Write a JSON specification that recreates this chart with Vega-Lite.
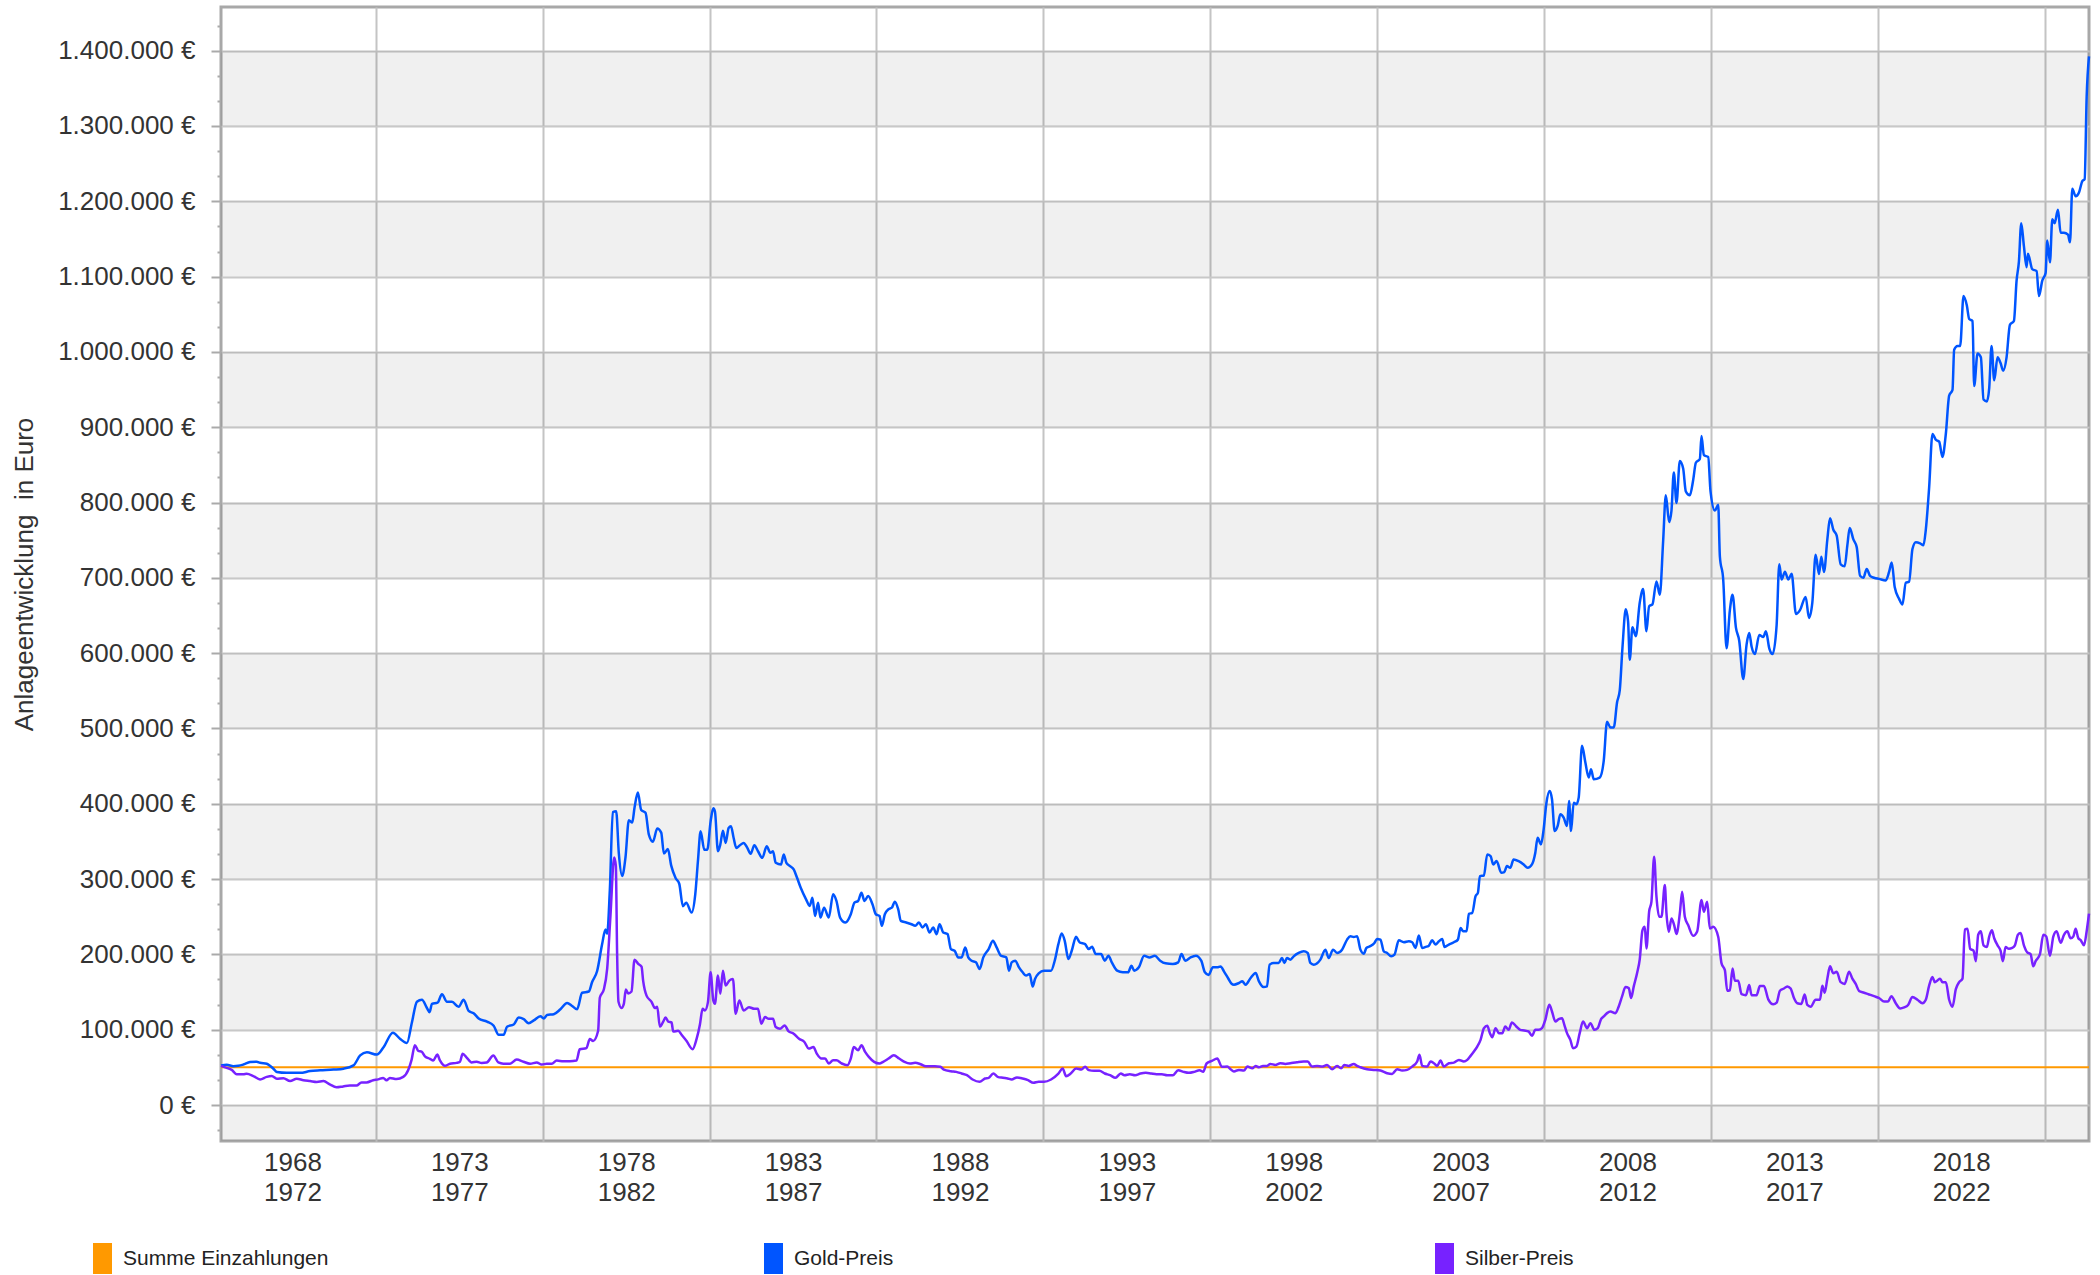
{
"$schema": "https://vega.github.io/schema/vega-lite/v6.json",
"autosize": {"type": "none"},
"padding": {"left": 221, "top": 7, "right": 11, "bottom": 134},
"width": 1868,
"height": 1134,
"background": "white",
"config": {"view": {"stroke": "#a8a8a8", "strokeWidth": 3}, "font": "Liberation Sans"},
"datasets": {
"baender": [{"von":-47800,"bis":0},{"von":100000,"bis":200000},{"von":300000,"bis":400000},{"von":500000,"bis":600000},{"von":700000,"bis":800000},{"von":900000,"bis":1000000},{"von":1100000,"bis":1200000},{"von":1300000,"bis":1400000}],
"einzahlungen": [{"Jahr":1968.36,"Wert":50000},{"Jahr":2024.33,"Wert":50000}],
"gold": [{"Jahr":1968.36,"Wert":52500},{"Jahr":1968.53,"Wert":53500},{"Jahr":1968.73,"Wert":51500},{"Jahr":1968.88,"Wert":52000},{"Jahr":1969.03,"Wert":53700},{"Jahr":1969.23,"Wert":57000},{"Jahr":1969.43,"Wert":57500},{"Jahr":1969.53,"Wert":56000},{"Jahr":1969.73,"Wert":54800},{"Jahr":1969.93,"Wert":48200},{"Jahr":1970.03,"Wert":43800},{"Jahr":1970.33,"Wert":42700},{"Jahr":1970.73,"Wert":42700},{"Jahr":1971.03,"Wert":45000},{"Jahr":1971.33,"Wert":46000},{"Jahr":1971.73,"Wert":47000},{"Jahr":1972.03,"Wert":48200},{"Jahr":1972.33,"Wert":52600},{"Jahr":1972.53,"Wert":65800},{"Jahr":1972.73,"Wert":70000},{"Jahr":1973.03,"Wert":66900},{"Jahr":1973.23,"Wert":76700},{"Jahr":1973.51,"Wert":95900},{"Jahr":1973.73,"Wert":87700},{"Jahr":1973.93,"Wert":82200},{"Jahr":1974.08,"Wert":109600},{"Jahr":1974.23,"Wert":137000},{"Jahr":1974.38,"Wert":139700},{"Jahr":1974.53,"Wert":128800},{"Jahr":1974.61,"Wert":123300},{"Jahr":1974.68,"Wert":134300},{"Jahr":1974.85,"Wert":135900},{"Jahr":1974.98,"Wert":146900},{"Jahr":1975.13,"Wert":137000},{"Jahr":1975.28,"Wert":137000},{"Jahr":1975.48,"Wert":130400},{"Jahr":1975.63,"Wert":139700},{"Jahr":1975.78,"Wert":124900},{"Jahr":1975.93,"Wert":121700},{"Jahr":1976.08,"Wert":115000},{"Jahr":1976.33,"Wert":110700},{"Jahr":1976.53,"Wert":105200},{"Jahr":1976.68,"Wert":93200},{"Jahr":1976.83,"Wert":93200},{"Jahr":1976.93,"Wert":104000},{"Jahr":1977.13,"Wert":106900},{"Jahr":1977.28,"Wert":116200},{"Jahr":1977.43,"Wert":114000},{"Jahr":1977.58,"Wert":108500},{"Jahr":1977.73,"Wert":112300},{"Jahr":1977.93,"Wert":117800},{"Jahr":1978.03,"Wert":115000},{"Jahr":1978.13,"Wert":119500},{"Jahr":1978.33,"Wert":120600},{"Jahr":1978.53,"Wert":127100},{"Jahr":1978.73,"Wert":135400},{"Jahr":1978.88,"Wert":131500},{"Jahr":1979.03,"Wert":127100},{"Jahr":1979.18,"Wert":149000},{"Jahr":1979.38,"Wert":150700},{"Jahr":1979.48,"Wert":163300},{"Jahr":1979.63,"Wert":178000},{"Jahr":1979.78,"Wert":213700},{"Jahr":1979.88,"Wert":232900},{"Jahr":1979.93,"Wert":227400},{"Jahr":1980.01,"Wert":285000},{"Jahr":1980.10,"Wert":389000},{"Jahr":1980.20,"Wert":390000},{"Jahr":1980.28,"Wert":334000},{"Jahr":1980.38,"Wert":304000},{"Jahr":1980.48,"Wert":329000},{"Jahr":1980.58,"Wert":378000},{"Jahr":1980.68,"Wert":375000},{"Jahr":1980.75,"Wert":394600},{"Jahr":1980.85,"Wert":414800},{"Jahr":1980.95,"Wert":391800},{"Jahr":1981.08,"Wert":388000},{"Jahr":1981.18,"Wert":359000},{"Jahr":1981.30,"Wert":349600},{"Jahr":1981.43,"Wert":367000},{"Jahr":1981.55,"Wert":361700},{"Jahr":1981.63,"Wert":334000},{"Jahr":1981.75,"Wert":339800},{"Jahr":1981.85,"Wert":317800},{"Jahr":1981.98,"Wert":301400},{"Jahr":1982.09,"Wert":293800},{"Jahr":1982.20,"Wert":264000},{"Jahr":1982.30,"Wert":268700},{"Jahr":1982.46,"Wert":255500},{"Jahr":1982.57,"Wert":279700},{"Jahr":1982.65,"Wert":323800},{"Jahr":1982.73,"Wert":363400},{"Jahr":1982.84,"Wert":339000},{"Jahr":1982.93,"Wert":339000},{"Jahr":1983.03,"Wert":376600},{"Jahr":1983.11,"Wert":394000},{"Jahr":1983.16,"Wert":389800},{"Jahr":1983.25,"Wert":337000},{"Jahr":1983.32,"Wert":345800},{"Jahr":1983.40,"Wert":364300},{"Jahr":1983.48,"Wert":348000},{"Jahr":1983.57,"Wert":367800},{"Jahr":1983.64,"Wert":370000},{"Jahr":1983.72,"Wert":354600},{"Jahr":1983.80,"Wert":341400},{"Jahr":1983.91,"Wert":345000},{"Jahr":1984.02,"Wert":348000},{"Jahr":1984.13,"Wert":341400},{"Jahr":1984.23,"Wert":333500},{"Jahr":1984.34,"Wert":345000},{"Jahr":1984.45,"Wert":337000},{"Jahr":1984.58,"Wert":328200},{"Jahr":1984.71,"Wert":343600},{"Jahr":1984.82,"Wert":334800},{"Jahr":1984.90,"Wert":337000},{"Jahr":1984.98,"Wert":321600},{"Jahr":1985.14,"Wert":319400},{"Jahr":1985.22,"Wert":332600},{"Jahr":1985.30,"Wert":321600},{"Jahr":1985.41,"Wert":317200},{"Jahr":1985.52,"Wert":312800},{"Jahr":1985.62,"Wert":301700},{"Jahr":1985.73,"Wert":288500},{"Jahr":1985.89,"Wert":273100},{"Jahr":1986.00,"Wert":264300},{"Jahr":1986.08,"Wert":275300},{"Jahr":1986.16,"Wert":251100},{"Jahr":1986.25,"Wert":268700},{"Jahr":1986.32,"Wert":248900},{"Jahr":1986.43,"Wert":262000},{"Jahr":1986.57,"Wert":248900},{"Jahr":1986.70,"Wert":279700},{"Jahr":1986.80,"Wert":270900},{"Jahr":1986.91,"Wert":248900},{"Jahr":1987.07,"Wert":242300},{"Jahr":1987.23,"Wert":253300},{"Jahr":1987.34,"Wert":268700},{"Jahr":1987.45,"Wert":270900},{"Jahr":1987.55,"Wert":281900},{"Jahr":1987.64,"Wert":270900},{"Jahr":1987.75,"Wert":277500},{"Jahr":1987.88,"Wert":266500},{"Jahr":1987.98,"Wert":253300},{"Jahr":1988.09,"Wert":251000},{"Jahr":1988.16,"Wert":237900},{"Jahr":1988.25,"Wert":253300},{"Jahr":1988.36,"Wert":260000},{"Jahr":1988.46,"Wert":262000},{"Jahr":1988.55,"Wert":270000},{"Jahr":1988.65,"Wert":260000},{"Jahr":1988.73,"Wert":244500},{"Jahr":1988.89,"Wert":242300},{"Jahr":1989.05,"Wert":240000},{"Jahr":1989.16,"Wert":237900},{"Jahr":1989.27,"Wert":242300},{"Jahr":1989.38,"Wert":235700},{"Jahr":1989.48,"Wert":240000},{"Jahr":1989.59,"Wert":229000},{"Jahr":1989.70,"Wert":235700},{"Jahr":1989.80,"Wert":226900},{"Jahr":1989.89,"Wert":240000},{"Jahr":1990.00,"Wert":229000},{"Jahr":1990.13,"Wert":226900},{"Jahr":1990.23,"Wert":207000},{"Jahr":1990.34,"Wert":204800},{"Jahr":1990.45,"Wert":196000},{"Jahr":1990.55,"Wert":196000},{"Jahr":1990.66,"Wert":209200},{"Jahr":1990.75,"Wert":196000},{"Jahr":1990.85,"Wert":191600},{"Jahr":1990.98,"Wert":189400},{"Jahr":1991.09,"Wert":180600},{"Jahr":1991.20,"Wert":196000},{"Jahr":1991.36,"Wert":207000},{"Jahr":1991.49,"Wert":218000},{"Jahr":1991.60,"Wert":209200},{"Jahr":1991.73,"Wert":198200},{"Jahr":1991.89,"Wert":196000},{"Jahr":1991.97,"Wert":178400},{"Jahr":1992.05,"Wert":189400},{"Jahr":1992.16,"Wert":191600},{"Jahr":1992.27,"Wert":182800},{"Jahr":1992.38,"Wert":176200},{"Jahr":1992.48,"Wert":171800},{"Jahr":1992.59,"Wert":174000},{"Jahr":1992.68,"Wert":157300},{"Jahr":1992.75,"Wert":167400},{"Jahr":1992.86,"Wert":174900},{"Jahr":1993.02,"Wert":178400},{"Jahr":1993.23,"Wert":178400},{"Jahr":1993.34,"Wert":191600},{"Jahr":1993.45,"Wert":213600},{"Jahr":1993.55,"Wert":227700},{"Jahr":1993.64,"Wert":218000},{"Jahr":1993.75,"Wert":193800},{"Jahr":1993.85,"Wert":204800},{"Jahr":1993.98,"Wert":223300},{"Jahr":1994.09,"Wert":215800},{"Jahr":1994.25,"Wert":213600},{"Jahr":1994.36,"Wert":207000},{"Jahr":1994.46,"Wert":210200},{"Jahr":1994.57,"Wert":200400},{"Jahr":1994.73,"Wert":200400},{"Jahr":1994.84,"Wert":191600},{"Jahr":1994.95,"Wert":198200},{"Jahr":1995.05,"Wert":189400},{"Jahr":1995.21,"Wert":178400},{"Jahr":1995.38,"Wert":176200},{"Jahr":1995.54,"Wert":176200},{"Jahr":1995.64,"Wert":185000},{"Jahr":1995.72,"Wert":178400},{"Jahr":1995.86,"Wert":182800},{"Jahr":1996.02,"Wert":198200},{"Jahr":1996.18,"Wert":196000},{"Jahr":1996.34,"Wert":198200},{"Jahr":1996.50,"Wert":191600},{"Jahr":1996.66,"Wert":188100},{"Jahr":1996.88,"Wert":187200},{"Jahr":1997.04,"Wert":189400},{"Jahr":1997.14,"Wert":200400},{"Jahr":1997.25,"Wert":191600},{"Jahr":1997.41,"Wert":196000},{"Jahr":1997.57,"Wert":198200},{"Jahr":1997.73,"Wert":191600},{"Jahr":1997.84,"Wert":176200},{"Jahr":1997.95,"Wert":172700},{"Jahr":1998.08,"Wert":182800},{"Jahr":1998.21,"Wert":182800},{"Jahr":1998.31,"Wert":184000},{"Jahr":1998.41,"Wert":177500},{"Jahr":1998.54,"Wert":168000},{"Jahr":1998.64,"Wert":161000},{"Jahr":1998.71,"Wert":159700},{"Jahr":1998.86,"Wert":162000},{"Jahr":1998.96,"Wert":164200},{"Jahr":1999.06,"Wert":159700},{"Jahr":1999.21,"Wert":168600},{"Jahr":1999.36,"Wert":175300},{"Jahr":1999.46,"Wert":164200},{"Jahr":1999.60,"Wert":156600},{"Jahr":1999.70,"Wert":157500},{"Jahr":1999.78,"Wert":186400},{"Jahr":1999.90,"Wert":188600},{"Jahr":2000.05,"Wert":188600},{"Jahr":2000.15,"Wert":195200},{"Jahr":2000.22,"Wert":188600},{"Jahr":2000.30,"Wert":195200},{"Jahr":2000.40,"Wert":193000},{"Jahr":2000.50,"Wert":197400},{"Jahr":2000.65,"Wert":201900},{"Jahr":2000.80,"Wert":204100},{"Jahr":2000.92,"Wert":201900},{"Jahr":2001.00,"Wert":188600},{"Jahr":2001.10,"Wert":186400},{"Jahr":2001.30,"Wert":193000},{"Jahr":2001.45,"Wert":206300},{"Jahr":2001.55,"Wert":195200},{"Jahr":2001.68,"Wert":206300},{"Jahr":2001.80,"Wert":201900},{"Jahr":2001.95,"Wert":206300},{"Jahr":2002.10,"Wert":219600},{"Jahr":2002.20,"Wert":224100},{"Jahr":2002.30,"Wert":223200},{"Jahr":2002.40,"Wert":224100},{"Jahr":2002.50,"Wert":206300},{"Jahr":2002.60,"Wert":201000},{"Jahr":2002.68,"Wert":208500},{"Jahr":2002.78,"Wert":210700},{"Jahr":2002.92,"Wert":215200},{"Jahr":2003.00,"Wert":220500},{"Jahr":2003.10,"Wert":219600},{"Jahr":2003.20,"Wert":204100},{"Jahr":2003.30,"Wert":201900},{"Jahr":2003.42,"Wert":197400},{"Jahr":2003.52,"Wert":199700},{"Jahr":2003.65,"Wert":218700},{"Jahr":2003.80,"Wert":216100},{"Jahr":2003.95,"Wert":217400},{"Jahr":2004.05,"Wert":216100},{"Jahr":2004.15,"Wert":208500},{"Jahr":2004.25,"Wert":225000},{"Jahr":2004.35,"Wert":208500},{"Jahr":2004.45,"Wert":209900},{"Jahr":2004.55,"Wert":211600},{"Jahr":2004.65,"Wert":218700},{"Jahr":2004.75,"Wert":213000},{"Jahr":2004.85,"Wert":217400},{"Jahr":2004.95,"Wert":220500},{"Jahr":2005.02,"Wert":209900},{"Jahr":2005.15,"Wert":213000},{"Jahr":2005.30,"Wert":216100},{"Jahr":2005.42,"Wert":219600},{"Jahr":2005.50,"Wert":235200},{"Jahr":2005.58,"Wert":230700},{"Jahr":2005.68,"Wert":230700},{"Jahr":2005.75,"Wert":253800},{"Jahr":2005.85,"Wert":255100},{"Jahr":2005.95,"Wert":277300},{"Jahr":2006.02,"Wert":281800},{"Jahr":2006.08,"Wert":303900},{"Jahr":2006.20,"Wert":304800},{"Jahr":2006.30,"Wert":332800},{"Jahr":2006.40,"Wert":330600},{"Jahr":2006.48,"Wert":319500},{"Jahr":2006.58,"Wert":323900},{"Jahr":2006.72,"Wert":308400},{"Jahr":2006.81,"Wert":309300},{"Jahr":2006.89,"Wert":317200},{"Jahr":2006.99,"Wert":315000},{"Jahr":2007.09,"Wert":326100},{"Jahr":2007.24,"Wert":323900},{"Jahr":2007.39,"Wert":319500},{"Jahr":2007.51,"Wert":315000},{"Jahr":2007.64,"Wert":319500},{"Jahr":2007.74,"Wert":335000},{"Jahr":2007.81,"Wert":354900},{"Jahr":2007.91,"Wert":346100},{"Jahr":2007.99,"Wert":366000},{"Jahr":2008.07,"Wert":400000},{"Jahr":2008.17,"Wert":417000},{"Jahr":2008.24,"Wert":406000},{"Jahr":2008.32,"Wert":363800},{"Jahr":2008.41,"Wert":370500},{"Jahr":2008.49,"Wert":386000},{"Jahr":2008.59,"Wert":381600},{"Jahr":2008.69,"Wert":370500},{"Jahr":2008.75,"Wert":403800},{"Jahr":2008.81,"Wert":363800},{"Jahr":2008.89,"Wert":401500},{"Jahr":2008.97,"Wert":399300},{"Jahr":2009.04,"Wert":408200},{"Jahr":2009.14,"Wert":477000},{"Jahr":2009.24,"Wert":454800},{"Jahr":2009.34,"Wert":434800},{"Jahr":2009.41,"Wert":445900},{"Jahr":2009.49,"Wert":432600},{"Jahr":2009.67,"Wert":434800},{"Jahr":2009.79,"Wert":457000},{"Jahr":2009.89,"Wert":509000},{"Jahr":2009.99,"Wert":501300},{"Jahr":2010.09,"Wert":501300},{"Jahr":2010.19,"Wert":534700},{"Jahr":2010.27,"Wert":550500},{"Jahr":2010.35,"Wert":606400},{"Jahr":2010.45,"Wert":658200},{"Jahr":2010.52,"Wert":641900},{"Jahr":2010.57,"Wert":591100},{"Jahr":2010.65,"Wert":634300},{"Jahr":2010.75,"Wert":622600},{"Jahr":2010.87,"Wert":667300},{"Jahr":2010.97,"Wert":685100},{"Jahr":2011.07,"Wert":629200},{"Jahr":2011.15,"Wert":662300},{"Jahr":2011.25,"Wert":664800},{"Jahr":2011.37,"Wert":695300},{"Jahr":2011.47,"Wert":677500},{"Jahr":2011.57,"Wert":748600},{"Jahr":2011.65,"Wert":809600},{"Jahr":2011.75,"Wert":774000},{"Jahr":2011.82,"Wert":789300},{"Jahr":2011.89,"Wert":840000},{"Jahr":2011.97,"Wert":799400},{"Jahr":2012.07,"Wert":855300},{"Jahr":2012.17,"Wert":845100},{"Jahr":2012.25,"Wert":814700},{"Jahr":2012.37,"Wert":809600},{"Jahr":2012.47,"Wert":829900},{"Jahr":2012.55,"Wert":852800},{"Jahr":2012.67,"Wert":857800},{"Jahr":2012.72,"Wert":888300},{"Jahr":2012.79,"Wert":862900},{"Jahr":2012.92,"Wert":860400},{"Jahr":2012.99,"Wert":814700},{"Jahr":2013.12,"Wert":789300},{"Jahr":2013.22,"Wert":797000},{"Jahr":2013.27,"Wert":728300},{"Jahr":2013.37,"Wert":697800},{"Jahr":2013.47,"Wert":606400},{"Jahr":2013.57,"Wert":657200},{"Jahr":2013.65,"Wert":677500},{"Jahr":2013.75,"Wert":634300},{"Jahr":2013.85,"Wert":616500},{"Jahr":2013.97,"Wert":565700},{"Jahr":2014.07,"Wert":611400},{"Jahr":2014.15,"Wert":626700},{"Jahr":2014.22,"Wert":608900},{"Jahr":2014.32,"Wert":598800},{"Jahr":2014.45,"Wert":624200},{"Jahr":2014.57,"Wert":621600},{"Jahr":2014.65,"Wert":629200},{"Jahr":2014.75,"Wert":606400},{"Jahr":2014.85,"Wert":598800},{"Jahr":2014.97,"Wert":636900},{"Jahr":2015.05,"Wert":718100},{"Jahr":2015.12,"Wert":697800},{"Jahr":2015.22,"Wert":708000},{"Jahr":2015.32,"Wert":697800},{"Jahr":2015.42,"Wert":705400},{"Jahr":2015.55,"Wert":652100},{"Jahr":2015.67,"Wert":657200},{"Jahr":2015.84,"Wert":674700},{"Jahr":2015.94,"Wert":646700},{"Jahr":2016.04,"Wert":667000},{"Jahr":2016.14,"Wert":730700},{"Jahr":2016.24,"Wert":705200},{"Jahr":2016.31,"Wert":728100},{"Jahr":2016.39,"Wert":707800},{"Jahr":2016.49,"Wert":751000},{"Jahr":2016.57,"Wert":779000},{"Jahr":2016.67,"Wert":763800},{"Jahr":2016.77,"Wert":756100},{"Jahr":2016.89,"Wert":717900},{"Jahr":2017.01,"Wert":715400},{"Jahr":2017.09,"Wert":743400},{"Jahr":2017.16,"Wert":766300},{"Jahr":2017.27,"Wert":751000},{"Jahr":2017.37,"Wert":740800},{"Jahr":2017.47,"Wert":702700},{"Jahr":2017.57,"Wert":700100},{"Jahr":2017.67,"Wert":711800},{"Jahr":2017.77,"Wert":702700},{"Jahr":2017.89,"Wert":700100},{"Jahr":2018.04,"Wert":698600},{"Jahr":2018.24,"Wert":696600},{"Jahr":2018.34,"Wert":707800},{"Jahr":2018.42,"Wert":720500},{"Jahr":2018.51,"Wert":687400},{"Jahr":2018.64,"Wert":672100},{"Jahr":2018.74,"Wert":664500},{"Jahr":2018.84,"Wert":693500},{"Jahr":2018.94,"Wert":695000},{"Jahr":2019.04,"Wert":738300},{"Jahr":2019.14,"Wert":747400},{"Jahr":2019.27,"Wert":745900},{"Jahr":2019.37,"Wert":743400},{"Jahr":2019.44,"Wert":763800},{"Jahr":2019.54,"Wert":819800},{"Jahr":2019.64,"Wert":891000},{"Jahr":2019.74,"Wert":883400},{"Jahr":2019.84,"Wert":880800},{"Jahr":2019.94,"Wert":860500},{"Jahr":2020.04,"Wert":891000},{"Jahr":2020.14,"Wert":941900},{"Jahr":2020.24,"Wert":949500},{"Jahr":2020.29,"Wert":1003000},{"Jahr":2020.39,"Wert":1008000},{"Jahr":2020.47,"Wert":1008000},{"Jahr":2020.57,"Wert":1074200},{"Jahr":2020.67,"Wert":1061500},{"Jahr":2020.74,"Wert":1043700},{"Jahr":2020.84,"Wert":1041100},{"Jahr":2020.89,"Wert":954600},{"Jahr":2020.99,"Wert":997900},{"Jahr":2021.09,"Wert":992800},{"Jahr":2021.17,"Wert":936800},{"Jahr":2021.27,"Wert":934300},{"Jahr":2021.34,"Wert":952000},{"Jahr":2021.41,"Wert":1008000},{"Jahr":2021.49,"Wert":962300},{"Jahr":2021.59,"Wert":992800},{"Jahr":2021.68,"Wert":985200},{"Jahr":2021.76,"Wert":975000},{"Jahr":2021.86,"Wert":992800},{"Jahr":2021.96,"Wert":1036000},{"Jahr":2022.08,"Wert":1041100},{"Jahr":2022.16,"Wert":1094600},{"Jahr":2022.23,"Wert":1120000},{"Jahr":2022.30,"Wert":1171000},{"Jahr":2022.38,"Wert":1140400},{"Jahr":2022.46,"Wert":1112400},{"Jahr":2022.50,"Wert":1130300},{"Jahr":2022.63,"Wert":1109900},{"Jahr":2022.76,"Wert":1107300},{"Jahr":2022.83,"Wert":1074200},{"Jahr":2022.93,"Wert":1094600},{"Jahr":2023.03,"Wert":1104800},{"Jahr":2023.08,"Wert":1148000},{"Jahr":2023.16,"Wert":1119000},{"Jahr":2023.23,"Wert":1176000},{"Jahr":2023.30,"Wert":1171000},{"Jahr":2023.40,"Wert":1188800},{"Jahr":2023.48,"Wert":1158200},{"Jahr":2023.58,"Wert":1158200},{"Jahr":2023.70,"Wert":1155700},{"Jahr":2023.76,"Wert":1145500},{"Jahr":2023.83,"Wert":1216800},{"Jahr":2023.93,"Wert":1206600},{"Jahr":2024.03,"Wert":1211700},{"Jahr":2024.13,"Wert":1226900},{"Jahr":2024.20,"Wert":1229500},{"Jahr":2024.26,"Wert":1338900},{"Jahr":2024.33,"Wert":1392400}],
"silber": [{"Jahr":1968.36,"Wert":52000},{"Jahr":1968.53,"Wert":49300},{"Jahr":1968.68,"Wert":46600},{"Jahr":1968.83,"Wert":41000},{"Jahr":1969.03,"Wert":41000},{"Jahr":1969.13,"Wert":41500},{"Jahr":1969.33,"Wert":38400},{"Jahr":1969.53,"Wert":34000},{"Jahr":1969.73,"Wert":37300},{"Jahr":1969.88,"Wert":38400},{"Jahr":1970.03,"Wert":35000},{"Jahr":1970.23,"Wert":35600},{"Jahr":1970.43,"Wert":31800},{"Jahr":1970.63,"Wert":35000},{"Jahr":1970.83,"Wert":32900},{"Jahr":1971.03,"Wert":31800},{"Jahr":1971.23,"Wert":30700},{"Jahr":1971.43,"Wert":31800},{"Jahr":1971.62,"Wert":27400},{"Jahr":1971.82,"Wert":23600},{"Jahr":1972.02,"Wert":24700},{"Jahr":1972.22,"Wert":25800},{"Jahr":1972.42,"Wert":25800},{"Jahr":1972.57,"Wert":30000},{"Jahr":1972.72,"Wert":30000},{"Jahr":1972.92,"Wert":32900},{"Jahr":1973.07,"Wert":34000},{"Jahr":1973.22,"Wert":36000},{"Jahr":1973.32,"Wert":32900},{"Jahr":1973.42,"Wert":36000},{"Jahr":1973.62,"Wert":34500},{"Jahr":1973.82,"Wert":37300},{"Jahr":1973.97,"Wert":46600},{"Jahr":1974.07,"Wert":60000},{"Jahr":1974.17,"Wert":79500},{"Jahr":1974.27,"Wert":72000},{"Jahr":1974.37,"Wert":71000},{"Jahr":1974.47,"Wert":64700},{"Jahr":1974.62,"Wert":61400},{"Jahr":1974.72,"Wert":59200},{"Jahr":1974.84,"Wert":66900},{"Jahr":1974.92,"Wert":59200},{"Jahr":1975.07,"Wert":52000},{"Jahr":1975.22,"Wert":54800},{"Jahr":1975.42,"Wert":55900},{"Jahr":1975.52,"Wert":57500},{"Jahr":1975.60,"Wert":68000},{"Jahr":1975.72,"Wert":63000},{"Jahr":1975.87,"Wert":56500},{"Jahr":1976.02,"Wert":57500},{"Jahr":1976.17,"Wert":55900},{"Jahr":1976.32,"Wert":56500},{"Jahr":1976.52,"Wert":65800},{"Jahr":1976.67,"Wert":56500},{"Jahr":1976.82,"Wert":54800},{"Jahr":1977.02,"Wert":54800},{"Jahr":1977.22,"Wert":60300},{"Jahr":1977.42,"Wert":57500},{"Jahr":1977.62,"Wert":54800},{"Jahr":1977.82,"Wert":56500},{"Jahr":1977.97,"Wert":53700},{"Jahr":1978.12,"Wert":54800},{"Jahr":1978.27,"Wert":54800},{"Jahr":1978.42,"Wert":59000},{"Jahr":1978.62,"Wert":58000},{"Jahr":1978.81,"Wert":58000},{"Jahr":1979.01,"Wert":59000},{"Jahr":1979.11,"Wert":74000},{"Jahr":1979.31,"Wert":75600},{"Jahr":1979.41,"Wert":87700},{"Jahr":1979.51,"Wert":85000},{"Jahr":1979.66,"Wert":98600},{"Jahr":1979.71,"Wert":142500},{"Jahr":1979.83,"Wert":153400},{"Jahr":1979.93,"Wert":180800},{"Jahr":1980.03,"Wert":252000},{"Jahr":1980.14,"Wert":328800},{"Jahr":1980.19,"Wert":317800},{"Jahr":1980.23,"Wert":197300},{"Jahr":1980.27,"Wert":137000},{"Jahr":1980.36,"Wert":128800},{"Jahr":1980.43,"Wert":134300},{"Jahr":1980.49,"Wert":153400},{"Jahr":1980.56,"Wert":148000},{"Jahr":1980.66,"Wert":150700},{"Jahr":1980.75,"Wert":192900},{"Jahr":1980.86,"Wert":187400},{"Jahr":1980.96,"Wert":183600},{"Jahr":1981.01,"Wert":164400},{"Jahr":1981.11,"Wert":145200},{"Jahr":1981.26,"Wert":137000},{"Jahr":1981.36,"Wert":128800},{"Jahr":1981.43,"Wert":130400},{"Jahr":1981.51,"Wert":104000},{"Jahr":1981.61,"Wert":110700},{"Jahr":1981.68,"Wert":116200},{"Jahr":1981.76,"Wert":110700},{"Jahr":1981.86,"Wert":109600},{"Jahr":1981.91,"Wert":97500},{"Jahr":1982.06,"Wert":98600},{"Jahr":1982.16,"Wert":93200},{"Jahr":1982.31,"Wert":85000},{"Jahr":1982.49,"Wert":74000},{"Jahr":1982.61,"Wert":87700},{"Jahr":1982.71,"Wert":106900},{"Jahr":1982.79,"Wert":127700},{"Jahr":1982.86,"Wert":125500},{"Jahr":1982.95,"Wert":136600},{"Jahr":1983.03,"Wert":176200},{"Jahr":1983.11,"Wert":138800},{"Jahr":1983.16,"Wert":134400},{"Jahr":1983.25,"Wert":171800},{"Jahr":1983.32,"Wert":147600},{"Jahr":1983.40,"Wert":178400},{"Jahr":1983.48,"Wert":158600},{"Jahr":1983.59,"Wert":165200},{"Jahr":1983.70,"Wert":167400},{"Jahr":1983.78,"Wert":121100},{"Jahr":1983.89,"Wert":138800},{"Jahr":1984.02,"Wert":125500},{"Jahr":1984.18,"Wert":129900},{"Jahr":1984.34,"Wert":127700},{"Jahr":1984.45,"Wert":127700},{"Jahr":1984.55,"Wert":107900},{"Jahr":1984.66,"Wert":116700},{"Jahr":1984.77,"Wert":114500},{"Jahr":1984.90,"Wert":114500},{"Jahr":1984.98,"Wert":103500},{"Jahr":1985.11,"Wert":101300},{"Jahr":1985.25,"Wert":105700},{"Jahr":1985.36,"Wert":98200},{"Jahr":1985.52,"Wert":94700},{"Jahr":1985.68,"Wert":88100},{"Jahr":1985.84,"Wert":83700},{"Jahr":1985.97,"Wert":74900},{"Jahr":1986.11,"Wert":77000},{"Jahr":1986.21,"Wert":68300},{"Jahr":1986.35,"Wert":61700},{"Jahr":1986.46,"Wert":61700},{"Jahr":1986.57,"Wert":55100},{"Jahr":1986.70,"Wert":59500},{"Jahr":1986.80,"Wert":59500},{"Jahr":1986.96,"Wert":55100},{"Jahr":1987.13,"Wert":52900},{"Jahr":1987.23,"Wert":61700},{"Jahr":1987.32,"Wert":77100},{"Jahr":1987.45,"Wert":72700},{"Jahr":1987.55,"Wert":79300},{"Jahr":1987.66,"Wert":70500},{"Jahr":1987.77,"Wert":63900},{"Jahr":1987.93,"Wert":57300},{"Jahr":1988.09,"Wert":55100},{"Jahr":1988.20,"Wert":57300},{"Jahr":1988.36,"Wert":61700},{"Jahr":1988.52,"Wert":66100},{"Jahr":1988.68,"Wert":61700},{"Jahr":1988.84,"Wert":57300},{"Jahr":1989.00,"Wert":55100},{"Jahr":1989.16,"Wert":56000},{"Jahr":1989.32,"Wert":54200},{"Jahr":1989.48,"Wert":51500},{"Jahr":1989.75,"Wert":51500},{"Jahr":1989.91,"Wert":50700},{"Jahr":1990.02,"Wert":47100},{"Jahr":1990.23,"Wert":44900},{"Jahr":1990.39,"Wert":44000},{"Jahr":1990.55,"Wert":41800},{"Jahr":1990.71,"Wert":39600},{"Jahr":1990.88,"Wert":33900},{"Jahr":1991.09,"Wert":30800},{"Jahr":1991.25,"Wert":35200},{"Jahr":1991.36,"Wert":36100},{"Jahr":1991.50,"Wert":41800},{"Jahr":1991.63,"Wert":37400},{"Jahr":1991.79,"Wert":36100},{"Jahr":1991.93,"Wert":35200},{"Jahr":1992.05,"Wert":33900},{"Jahr":1992.21,"Wert":36600},{"Jahr":1992.38,"Wert":35200},{"Jahr":1992.54,"Wert":33000},{"Jahr":1992.70,"Wert":29500},{"Jahr":1992.86,"Wert":30800},{"Jahr":1993.02,"Wert":30800},{"Jahr":1993.23,"Wert":33900},{"Jahr":1993.45,"Wert":41800},{"Jahr":1993.58,"Wert":48500},{"Jahr":1993.68,"Wert":38300},{"Jahr":1993.82,"Wert":41800},{"Jahr":1993.98,"Wert":48500},{"Jahr":1994.14,"Wert":47100},{"Jahr":1994.25,"Wert":50700},{"Jahr":1994.36,"Wert":46300},{"Jahr":1994.52,"Wert":45400},{"Jahr":1994.68,"Wert":45400},{"Jahr":1994.84,"Wert":41800},{"Jahr":1995.00,"Wert":39600},{"Jahr":1995.16,"Wert":36100},{"Jahr":1995.32,"Wert":41800},{"Jahr":1995.43,"Wert":39600},{"Jahr":1995.59,"Wert":40900},{"Jahr":1995.75,"Wert":39600},{"Jahr":1995.91,"Wert":41800},{"Jahr":1996.07,"Wert":42700},{"Jahr":1996.23,"Wert":41800},{"Jahr":1996.39,"Wert":40900},{"Jahr":1996.55,"Wert":40900},{"Jahr":1996.71,"Wert":39600},{"Jahr":1996.88,"Wert":39600},{"Jahr":1997.04,"Wert":46300},{"Jahr":1997.20,"Wert":44000},{"Jahr":1997.36,"Wert":42700},{"Jahr":1997.52,"Wert":44000},{"Jahr":1997.68,"Wert":46300},{"Jahr":1997.79,"Wert":44000},{"Jahr":1997.89,"Wert":55100},{"Jahr":1998.05,"Wert":58600},{"Jahr":1998.21,"Wert":61700},{"Jahr":1998.35,"Wert":50700},{"Jahr":1998.51,"Wert":51000},{"Jahr":1998.61,"Wert":47500},{"Jahr":1998.71,"Wert":44400},{"Jahr":1998.86,"Wert":46600},{"Jahr":1999.01,"Wert":45700},{"Jahr":1999.11,"Wert":51000},{"Jahr":1999.26,"Wert":48800},{"Jahr":1999.36,"Wert":51900},{"Jahr":1999.46,"Wert":50100},{"Jahr":1999.58,"Wert":51900},{"Jahr":1999.70,"Wert":51900},{"Jahr":1999.80,"Wert":54600},{"Jahr":1999.95,"Wert":53200},{"Jahr":2000.10,"Wert":55500},{"Jahr":2000.25,"Wert":54600},{"Jahr":2000.40,"Wert":55500},{"Jahr":2000.60,"Wert":56800},{"Jahr":2000.80,"Wert":57700},{"Jahr":2000.92,"Wert":57700},{"Jahr":2001.05,"Wert":51000},{"Jahr":2001.20,"Wert":51900},{"Jahr":2001.35,"Wert":51000},{"Jahr":2001.50,"Wert":53200},{"Jahr":2001.65,"Wert":47500},{"Jahr":2001.80,"Wert":51900},{"Jahr":2001.92,"Wert":48800},{"Jahr":2002.02,"Wert":53200},{"Jahr":2002.15,"Wert":51900},{"Jahr":2002.30,"Wert":54600},{"Jahr":2002.40,"Wert":51900},{"Jahr":2002.50,"Wert":50100},{"Jahr":2002.70,"Wert":47500},{"Jahr":2002.90,"Wert":46600},{"Jahr":2003.10,"Wert":45700},{"Jahr":2003.30,"Wert":42200},{"Jahr":2003.45,"Wert":41300},{"Jahr":2003.60,"Wert":47500},{"Jahr":2003.75,"Wert":45700},{"Jahr":2003.90,"Wert":46600},{"Jahr":2004.05,"Wert":51000},{"Jahr":2004.20,"Wert":57700},{"Jahr":2004.27,"Wert":66600},{"Jahr":2004.35,"Wert":51900},{"Jahr":2004.50,"Wert":51000},{"Jahr":2004.60,"Wert":57700},{"Jahr":2004.70,"Wert":55500},{"Jahr":2004.80,"Wert":51900},{"Jahr":2004.90,"Wert":59000},{"Jahr":2005.00,"Wert":51000},{"Jahr":2005.15,"Wert":55500},{"Jahr":2005.30,"Wert":56300},{"Jahr":2005.45,"Wert":59900},{"Jahr":2005.60,"Wert":57700},{"Jahr":2005.70,"Wert":59900},{"Jahr":2005.80,"Wert":65200},{"Jahr":2005.90,"Wert":71000},{"Jahr":2006.00,"Wert":77600},{"Jahr":2006.10,"Wert":86500},{"Jahr":2006.20,"Wert":102000},{"Jahr":2006.30,"Wert":105200},{"Jahr":2006.38,"Wert":95400},{"Jahr":2006.45,"Wert":90000},{"Jahr":2006.55,"Wert":102000},{"Jahr":2006.65,"Wert":95400},{"Jahr":2006.75,"Wert":95400},{"Jahr":2006.84,"Wert":104300},{"Jahr":2006.94,"Wert":99800},{"Jahr":2007.04,"Wert":109600},{"Jahr":2007.17,"Wert":104300},{"Jahr":2007.29,"Wert":99800},{"Jahr":2007.41,"Wert":98900},{"Jahr":2007.54,"Wert":97600},{"Jahr":2007.64,"Wert":91800},{"Jahr":2007.74,"Wert":99800},{"Jahr":2007.84,"Wert":99800},{"Jahr":2007.94,"Wert":102000},{"Jahr":2008.04,"Wert":113100},{"Jahr":2008.16,"Wert":133000},{"Jahr":2008.24,"Wert":124200},{"Jahr":2008.34,"Wert":110900},{"Jahr":2008.44,"Wert":114000},{"Jahr":2008.54,"Wert":115300},{"Jahr":2008.61,"Wert":106500},{"Jahr":2008.69,"Wert":95400},{"Jahr":2008.79,"Wert":86500},{"Jahr":2008.87,"Wert":75400},{"Jahr":2008.97,"Wert":77600},{"Jahr":2009.07,"Wert":95400},{"Jahr":2009.17,"Wert":110900},{"Jahr":2009.29,"Wert":102000},{"Jahr":2009.39,"Wert":108700},{"Jahr":2009.51,"Wert":99800},{"Jahr":2009.61,"Wert":102000},{"Jahr":2009.71,"Wert":114000},{"Jahr":2009.79,"Wert":117600},{"Jahr":2009.89,"Wert":122000},{"Jahr":2009.99,"Wert":124200},{"Jahr":2010.14,"Wert":122000},{"Jahr":2010.24,"Wert":130900},{"Jahr":2010.34,"Wert":144200},{"Jahr":2010.44,"Wert":156600},{"Jahr":2010.54,"Wert":155300},{"Jahr":2010.61,"Wert":142000},{"Jahr":2010.69,"Wert":157500},{"Jahr":2010.79,"Wert":175300},{"Jahr":2010.87,"Wert":193800},{"Jahr":2010.95,"Wert":232000},{"Jahr":2011.02,"Wert":236600},{"Jahr":2011.07,"Wert":207900},{"Jahr":2011.15,"Wert":256600},{"Jahr":2011.22,"Wert":270000},{"Jahr":2011.30,"Wert":329800},{"Jahr":2011.37,"Wert":276600},{"Jahr":2011.45,"Wert":250000},{"Jahr":2011.52,"Wert":250000},{"Jahr":2011.62,"Wert":292000},{"Jahr":2011.67,"Wert":254400},{"Jahr":2011.74,"Wert":230000},{"Jahr":2011.82,"Wert":247700},{"Jahr":2011.90,"Wert":238900},{"Jahr":2011.97,"Wert":227000},{"Jahr":2012.07,"Wert":254400},{"Jahr":2012.14,"Wert":283200},{"Jahr":2012.22,"Wert":250000},{"Jahr":2012.32,"Wert":238900},{"Jahr":2012.47,"Wert":224600},{"Jahr":2012.59,"Wert":230400},{"Jahr":2012.72,"Wert":272200},{"Jahr":2012.79,"Wert":256600},{"Jahr":2012.89,"Wert":270000},{"Jahr":2012.97,"Wert":234400},{"Jahr":2013.07,"Wert":236600},{"Jahr":2013.22,"Wert":223400},{"Jahr":2013.32,"Wert":188000},{"Jahr":2013.42,"Wert":179100},{"Jahr":2013.49,"Wert":151700},{"Jahr":2013.57,"Wert":152300},{"Jahr":2013.65,"Wert":181300},{"Jahr":2013.72,"Wert":164900},{"Jahr":2013.82,"Wert":164900},{"Jahr":2013.92,"Wert":147200},{"Jahr":2014.05,"Wert":145900},{"Jahr":2014.15,"Wert":159200},{"Jahr":2014.22,"Wert":145900},{"Jahr":2014.37,"Wert":145900},{"Jahr":2014.47,"Wert":157900},{"Jahr":2014.59,"Wert":157900},{"Jahr":2014.72,"Wert":140300},{"Jahr":2014.87,"Wert":133700},{"Jahr":2014.97,"Wert":135900},{"Jahr":2015.07,"Wert":151700},{"Jahr":2015.19,"Wert":154700},{"Jahr":2015.29,"Wert":157500},{"Jahr":2015.39,"Wert":154700},{"Jahr":2015.49,"Wert":142100},{"Jahr":2015.59,"Wert":135100},{"Jahr":2015.71,"Wert":134200},{"Jahr":2015.81,"Wert":146800},{"Jahr":2015.89,"Wert":132800},{"Jahr":2015.99,"Wert":130500},{"Jahr":2016.14,"Wert":139800},{"Jahr":2016.27,"Wert":139800},{"Jahr":2016.34,"Wert":158400},{"Jahr":2016.41,"Wert":149100},{"Jahr":2016.49,"Wert":167800},{"Jahr":2016.57,"Wert":184100},{"Jahr":2016.67,"Wert":174800},{"Jahr":2016.77,"Wert":177100},{"Jahr":2016.89,"Wert":163100},{"Jahr":2017.01,"Wert":160800},{"Jahr":2017.14,"Wert":177100},{"Jahr":2017.24,"Wert":167800},{"Jahr":2017.34,"Wert":160800},{"Jahr":2017.44,"Wert":151500},{"Jahr":2017.59,"Wert":149100},{"Jahr":2017.74,"Wert":146800},{"Jahr":2017.89,"Wert":144500},{"Jahr":2018.04,"Wert":142100},{"Jahr":2018.19,"Wert":137500},{"Jahr":2018.31,"Wert":137500},{"Jahr":2018.41,"Wert":144500},{"Jahr":2018.54,"Wert":135100},{"Jahr":2018.67,"Wert":128200},{"Jahr":2018.79,"Wert":129500},{"Jahr":2018.91,"Wert":132800},{"Jahr":2019.04,"Wert":143500},{"Jahr":2019.19,"Wert":139800},{"Jahr":2019.34,"Wert":135100},{"Jahr":2019.44,"Wert":139800},{"Jahr":2019.54,"Wert":158400},{"Jahr":2019.64,"Wert":170100},{"Jahr":2019.71,"Wert":163100},{"Jahr":2019.79,"Wert":165400},{"Jahr":2019.87,"Wert":167800},{"Jahr":2019.94,"Wert":163100},{"Jahr":2020.04,"Wert":163100},{"Jahr":2020.14,"Wert":139800},{"Jahr":2020.24,"Wert":130500},{"Jahr":2020.34,"Wert":153800},{"Jahr":2020.44,"Wert":163100},{"Jahr":2020.54,"Wert":167800},{"Jahr":2020.61,"Wert":233000},{"Jahr":2020.69,"Wert":233900},{"Jahr":2020.77,"Wert":207400},{"Jahr":2020.87,"Wert":205000},{"Jahr":2020.94,"Wert":191000},{"Jahr":2021.01,"Wert":226000},{"Jahr":2021.09,"Wert":230700},{"Jahr":2021.17,"Wert":212000},{"Jahr":2021.27,"Wert":209700},{"Jahr":2021.34,"Wert":223700},{"Jahr":2021.42,"Wert":232000},{"Jahr":2021.49,"Wert":221400},{"Jahr":2021.59,"Wert":212000},{"Jahr":2021.68,"Wert":205000},{"Jahr":2021.75,"Wert":191000},{"Jahr":2021.83,"Wert":209700},{"Jahr":2021.93,"Wert":207400},{"Jahr":2022.03,"Wert":208500},{"Jahr":2022.11,"Wert":212000},{"Jahr":2022.20,"Wert":226000},{"Jahr":2022.28,"Wert":228300},{"Jahr":2022.38,"Wert":212000},{"Jahr":2022.48,"Wert":202700},{"Jahr":2022.58,"Wert":200400},{"Jahr":2022.66,"Wert":184100},{"Jahr":2022.73,"Wert":191000},{"Jahr":2022.86,"Wert":200400},{"Jahr":2022.96,"Wert":226000},{"Jahr":2023.05,"Wert":223700},{"Jahr":2023.16,"Wert":198000},{"Jahr":2023.26,"Wert":223700},{"Jahr":2023.36,"Wert":230700},{"Jahr":2023.48,"Wert":215300},{"Jahr":2023.58,"Wert":226000},{"Jahr":2023.68,"Wert":230700},{"Jahr":2023.78,"Wert":221400},{"Jahr":2023.86,"Wert":223700},{"Jahr":2023.93,"Wert":233900},{"Jahr":2024.01,"Wert":221400},{"Jahr":2024.08,"Wert":219000},{"Jahr":2024.18,"Wert":212000},{"Jahr":2024.26,"Wert":230700},{"Jahr":2024.33,"Wert":254000}]
},
"resolve": {"axis": {"x": "independent", "y": "independent"}},
"layer": [
{
"data": {"name": "baender"},
"mark": {"type": "rect", "fill": "#000000", "fillOpacity": 0.059},
"encoding": {
"y": {"field": "von", "type": "quantitative", "scale": {"domain": [-47800, 1458000], "nice": false, "zero": false},
"axis": {"orient": "left", "values": [-33333,33333,66667,133333,166667,233333,266667,333333,366667,433333,466667,533333,566667,633333,666667,733333,766667,833333,866667,933333,966667,1033333,1066667,1133333,1166667,1233333,1266667,1333333,1366667,1433333], "labels": false, "grid": false, "domain": false, "ticks": true, "tickSize": 4, "tickColor": "#aaaaaa", "tickWidth": 2, "title": null}},
"y2": {"field": "bis"}
}
},
{
"data": {"name": "einzahlungen"},
"mark": {"type": "line", "strokeWidth": 2},
"encoding": {
"x": {"field": "Jahr", "type": "quantitative", "scale": {"domain": [1968.36, 2024.33], "nice": false, "zero": false},
"axis": {"orient": "bottom", "values": [1973,1978,1983,1988,1993,1998,2003,2008,2013,2018,2023], "grid": true, "gridColor": "#c4c4c4", "gridWidth": 2, "labels": false, "ticks": false, "domain": false, "title": null}},
"y": {"field": "Wert", "type": "quantitative", "axis": null},
"color": {"datum": "Summe Einzahlungen", "type": "nominal",
"scale": {"domain": ["Summe Einzahlungen", "Gold-Preis", "Silber-Preis"], "range": ["#ff9900", "#0055ff", "#7722ff"]},
"legend": {"title": null, "orient": "none", "legendX": -134, "legendY": 1236, "direction": "horizontal", "columns": 3, "gridAlign": "all", "columnPadding": 429, "padding": 0, "symbolType": "M-0.613,-1H0.613V1H-0.613Z", "symbolSize": 961, "symbolStrokeWidth": 0, "symbolOpacity": 1, "labelFontSize": 21, "labelColor": "#222222", "labelFont": "Liberation Sans", "labelOffset": 5, "labelLimit": 500,
"encode": {"symbols": {"update": {"fill": {"scale": "color", "field": "value"}, "fillOpacity": {"value": 1}, "strokeWidth": {"value": 0}}}}}}
}
},
{
"data": {"name": "gold"},
"mark": {"type": "line", "strokeWidth": 2.5, "interpolate": "monotone"},
"encoding": {
"x": {"field": "Jahr", "type": "quantitative", "scale": {"domain": [1968.36, 2024.33], "nice": false, "zero": false},
"axis": {"orient": "bottom", "values": [1970.5,1975.5,1980.5,1985.5,1990.5,1995.5,2000.5,2005.5,2010.5,2015.5,2020.5], "labelExpr": "[format(datum.value - 2.5, 'd'), format(datum.value + 1.5, 'd')]", "grid": false, "ticks": false, "tickSize": 0, "domain": false, "labelFontSize": 26, "labelLineHeight": 30, "labelBaseline": "top", "labelPadding": 8, "labelColor": "#333333", "labelFont": "Liberation Sans", "labelOverlap": false, "labelFlush": false, "title": null}},
"y": {"field": "Wert", "type": "quantitative", "scale": {"domain": [-47800, 1458000], "nice": false, "zero": false},
"axis": {"orient": "left", "values": [0,100000,200000,300000,400000,500000,600000,700000,800000,900000,1000000,1100000,1200000,1300000,1400000], "labelExpr": "replace(format(datum.value, ','), regexp(',', 'g'), '.') + ' €'", "grid": true, "gridColor": "#c8c8c8", "gridWidth": 2, "ticks": true, "tickSize": 10, "tickColor": "#aaaaaa", "tickWidth": 2, "domain": false, "labelFontSize": 26, "labelPadding": 16, "labelColor": "#333333", "labelFont": "Liberation Sans", "labelOverlap": false, "title": "Anlageentwicklung\u00a0 in Euro", "titleFontSize": 26, "titleFontWeight": "normal", "titleColor": "#333333", "titleFont": "Liberation Sans", "titleX": -197, "titleY": 567, "titleAngle": -90, "titleAlign": "center", "titleBaseline": "middle"}},
"color": {"datum": "Gold-Preis", "type": "nominal"}
}
},
{
"data": {"name": "silber"},
"mark": {"type": "line", "strokeWidth": 2.5, "interpolate": "monotone"},
"encoding": {
"x": {"field": "Jahr", "type": "quantitative", "axis": null},
"y": {"field": "Wert", "type": "quantitative", "axis": null},
"color": {"datum": "Silber-Preis", "type": "nominal"}
}
}
]
}
